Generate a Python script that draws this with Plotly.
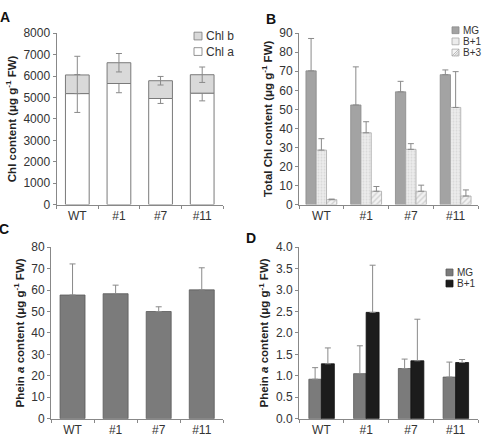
import plotly.graph_objects as go

W, H = 484, 446

lines = ["WT", "#1", "#7", "#11"]

# Panel A: Chl content (stacked)
chl_a = [5180, 5650, 4950, 5200]
chl_a_err = [880, 430, 230, 360]
chl_b = [870, 970, 830, 860]
chl_b_err = [870, 430, 200, 360]

# Panel B: total Chl content at stages
tot_mg = [70.2, 52.3, 59.2, 68.2]
tot_mg_err = [17.0, 20.0, 5.5, 2.5]
tot_b1 = [28.6, 37.7, 29.0, 51.0]
tot_b1_err = [6.0, 5.8, 3.0, 18.8]
tot_b3 = [2.6, 7.0, 7.0, 4.5]
tot_b3_err = [0.3, 2.5, 3.2, 3.2]

# Panel C: Phein a content
phein_c = [57.7, 58.3, 50.0, 60.1]
phein_c_err = [14.5, 4.0, 2.2, 10.3]

# Panel D: Phein a content by stage
phein_mg = [0.92, 1.05, 1.17, 0.97]
phein_mg_err = [0.27, 0.65, 0.22, 0.35]
phein_b1 = [1.28, 2.48, 1.35, 1.31]
phein_b1_err = [0.37, 1.10, 0.97, 0.07]

def px(x):
    return x / W

def py(y):
    return 1 - y / H

EC = "#8a8a8a"
OUT = "#7a7a7a"
FONT = "Liberation Sans, Arial, sans-serif"
TXT = "#333333"

fig = go.Figure()

def err(vals, sym=True):
    if sym:
        return dict(type="data", array=vals, symmetric=True, color=EC, thickness=1, width=3)
    return dict(type="data", array=vals, arrayminus=[0] * len(vals), symmetric=False,
                color=EC, thickness=1, width=3)

# A
fig.add_bar(x=lines, y=chl_a, name="Chl a", xaxis="x", yaxis="y", width=0.57, offset=-0.285,
            marker=dict(color="white", line=dict(color=OUT, width=1)),
            error_y=err(chl_a_err), showlegend=False)
fig.add_bar(x=lines, y=chl_b, base=chl_a, name="Chl b", xaxis="x", yaxis="y", width=0.57, offset=-0.285,
            marker=dict(color="#d9d9d9", line=dict(color=OUT, width=1)),
            error_y=err(chl_b_err), showlegend=False)

# B
bw = 0.23
fig.add_bar(x=lines, y=tot_mg, name="MG", xaxis="x2", yaxis="y2", width=bw, offset=-0.345,
            marker=dict(color="#a3a3a3", line=dict(color="#8a8a8a", width=0.8)),
            error_y=err(tot_mg_err, False), showlegend=False)
fig.add_bar(x=lines, y=tot_b1, name="B+1", xaxis="x2", yaxis="y2", width=bw, offset=-0.115,
            marker=dict(color="#ececec", line=dict(color="#a8a8a8", width=0.8),
                        pattern=dict(shape=".", fgcolor="#c4c4c4", bgcolor="#ececec", size=3, solidity=0.3)),
            error_y=err(tot_b1_err, False), showlegend=False)
fig.add_bar(x=lines, y=tot_b3, name="B+3", xaxis="x2", yaxis="y2", width=bw, offset=0.115,
            marker=dict(color="#f2f2f2", line=dict(color="#a8a8a8", width=0.8),
                        pattern=dict(shape="/", fgcolor="#b0b0b0", bgcolor="#f2f2f2", size=4, solidity=0.35)),
            error_y=err(tot_b3_err, False), showlegend=False)

# C
fig.add_bar(x=lines, y=phein_c, name="Phein a", xaxis="x3", yaxis="y3", width=0.58, offset=-0.29,
            marker=dict(color="#7b7b7b", line=dict(color="#5a5a5a", width=0.8)),
            error_y=err(phein_c_err, False), showlegend=False)

# D
fig.add_bar(x=lines, y=phein_mg, name="MG", xaxis="x4", yaxis="y4", width=0.28, offset=-0.28,
            marker=dict(color="#7b7b7b", line=dict(color="#5a5a5a", width=0.8)),
            error_y=err(phein_mg_err, False), showlegend=False)
fig.add_bar(x=lines, y=phein_b1, name="B+1", xaxis="x4", yaxis="y4", width=0.29, offset=0.0,
            marker=dict(color="#1c1c1c", line=dict(color="#111111", width=0.8)),
            error_y=err(phein_b1_err, False), showlegend=False)

def xax(dom, anchor):
    return dict(domain=[px(dom[0]), px(dom[1])], anchor=anchor, type="category",
                range=[-0.5, 3.5], showline=True, linecolor="#888888", linewidth=1,
                ticks="outside", tickson="boundaries", ticklen=3, tickcolor="#888888",
                showgrid=False, zeroline=False,
                tickfont=dict(family=FONT, size=12, color=TXT))

def yax(dom, anchor, rng, dtick, title, tickformat=None):
    d = dict(domain=[py(dom[1]), py(dom[0])], anchor=anchor, range=rng, dtick=dtick,
             showline=True, linecolor="#888888", linewidth=1, ticks="outside", ticklen=3,
             tickcolor="#888888", showgrid=False, zeroline=False,
             tickfont=dict(family=FONT, size=12, color=TXT),
             title=dict(text=title, font=dict(family=FONT, size=11.5, color="#222"), standoff=4))
    if tickformat:
        d["tickformat"] = tickformat
    return d

unit = "(μg g<sup>-1</sup> FW)"
fig.update_layout(
    width=W, height=H, margin=dict(l=0, r=0, t=0, b=0),
    paper_bgcolor="white", plot_bgcolor="white", barmode="overlay",
    font=dict(family=FONT, color=TXT),
    xaxis=xax([56.5, 223], "y"),
    yaxis=yax([27, 204], "x", [0, 8000], 1000, "<b>Chl content " + unit + "</b>"),
    xaxis2=xax([299, 478], "y2"),
    yaxis2=yax([27, 204], "x2", [0, 90], 10, "<b>Total Chl content " + unit + "</b>"),
    xaxis3=xax([51, 223.3], "y3"),
    yaxis3=yax([248, 425], "x3", [0, 80], 10, "<b>Phein <i>a</i> content " + unit + "</b>"),
    xaxis4=xax([299, 478], "y4"),
    yaxis4=yax([248, 425], "x4", [0, 4.0], 0.5, "<b>Phein <i>a</i> content " + unit + "</b>", ".1f"),
)

# panel letters
for lab, x, y in [("A", -2, 10), ("B", 264, 12), ("C", -3, 229), ("D", 244, 238)]:
    fig.add_annotation(text="<b>" + lab + "</b>", x=px(x), y=py(y), xref="paper", yref="paper",
                       xanchor="left", yanchor="middle", showarrow=False,
                       font=dict(family=FONT, size=14, color="#111"))

# manual legends
def legend_item(x, yc, s, fill, line, label, fs, hatch=False):
    fig.add_shape(type="rect", xref="paper", yref="paper",
                  x0=px(x), x1=px(x + s), y0=py(yc + s / 2), y1=py(yc - s / 2),
                  fillcolor=fill, line=dict(color=line, width=0.8))
    if hatch:
        for k in range(3):
            a = k * s / 3
            fig.add_shape(type="line", xref="paper", yref="paper",
                          x0=px(x + a), y0=py(yc + s / 2), x1=px(x + s), y1=py(yc - s / 2 + a),
                          line=dict(color="#a0a0a0", width=0.7))
    fig.add_annotation(text=label, x=px(x + s + 1.5), y=py(yc), xref="paper", yref="paper",
                       xanchor="left", yanchor="middle", showarrow=False,
                       font=dict(family=FONT, size=fs, color=TXT))

legend_item(194, 30, 8, "#d9d9d9", OUT, "Chl b", 12)
legend_item(194, 46, 8, "white", OUT, "Chl a", 12)

legend_item(452, 24, 7, "#a3a3a3", "#8a8a8a", "MG", 10)
legend_item(452, 35.5, 7, "#ececec", "#a8a8a8", "B+1", 10)
legend_item(452, 47, 7, "#f4f4f4", "#a8a8a8", "B+3", 10, hatch=True)

legend_item(446, 274, 7, "#7b7b7b", "#5a5a5a", "MG", 10)
legend_item(446, 285.5, 7, "#1c1c1c", "#111111", "B+1", 10)

fig.write_html("out.html")
